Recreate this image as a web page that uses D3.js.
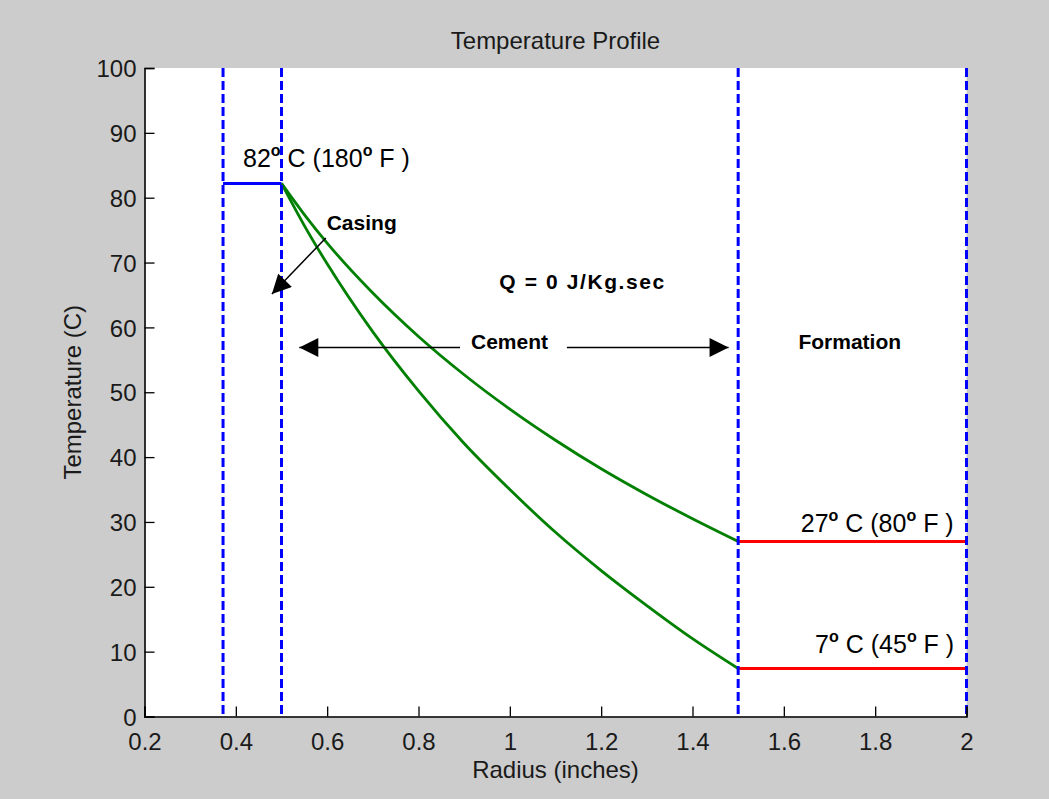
<!DOCTYPE html>
<html>
<head>
<meta charset="utf-8">
<script src="https://cdn.jsdelivr.net/npm/d3@7"></script>
<style>
  html, body { margin: 0; padding: 0; background: #cccccc; }
  svg { display: block; }
  text { font-family: "Liberation Sans", Arial, Helvetica, sans-serif; }
</style>
</head>
<body>
<svg id="chart" width="1049" height="799"></svg>
<script>
// Radial temperature profile through casing, cement and formation.
const xTickValues = [0.2, 0.4, 0.6, 0.8, 1.0, 1.2, 1.4, 1.6, 1.8, 2.0];
const xTickLabels = ["0.2", "0.4", "0.6", "0.8", "1", "1.2", "1.4", "1.6", "1.8", "2"];
const yTickValues = [0, 10, 20, 30, 40, 50, 60, 70, 80, 90, 100];
const yTickLabels = ["0", "10", "20", "30", "40", "50", "60", "70", "80", "90", "100"];

// Cement region: temperature vs radius (inches) for two formation temperatures
const cementRadius = [0.5, 0.55, 0.6, 0.7, 0.8, 0.9, 1.0, 1.1, 1.2, 1.3, 1.4, 1.5];
const tempToWarm = [82.2, 77.4, 73.0, 65.3, 58.6, 52.7, 47.4, 42.6, 38.2, 34.2, 30.5, 27.0];
const tempToCold = [82.2, 75.7, 69.8, 59.3, 50.2, 42.1, 35.0, 28.4, 22.5, 17.1, 12.0, 7.4];

// Layer boundaries (inches)
const boundaryRadii = [0.372, 0.5, 1.5, 2.0];
// Casing: constant fluid temperature
const casingSpan = [0.372, 0.5];
const casingTemp = 82.2;
// Formation: constant far-field temperatures
const formationSpan = [1.5, 2.0];
const formationTemps = [27.0, 7.4];

const svg = d3.select("#chart");
const W = 1049, H = 799;
const margin = { left: 144.5, right: 82.5, top: 68, bottom: 82.5 };

const x = d3.scaleLinear().domain([0.2, 2]).range([margin.left, W - margin.right]);
const y = d3.scaleLinear().domain([0, 100]).range([H - margin.bottom, margin.top]);

// Figure and axes backgrounds
svg.append("rect").attr("width", W).attr("height", H).attr("fill", "#cccccc");
svg.append("rect")
  .attr("x", x(0.2)).attr("y", y(100))
  .attr("width", x(2) - x(0.2)).attr("height", y(0) - y(100))
  .attr("fill", "#ffffff");

const defs = svg.append("defs");
defs.append("marker")
  .attr("id", "arrowhead")
  .attr("viewBox", "0 0 20 20")
  .attr("refX", 20).attr("refY", 10)
  .attr("markerUnits", "userSpaceOnUse")
  .attr("markerWidth", 20).attr("markerHeight", 19)
  .attr("orient", "auto")
  .append("path").attr("d", "M0,0 L20,10 L0,20 Z").attr("fill", "#000");

// Cement temperature curves
const line = d3.line().x(d => x(d[0])).y(d => y(d[1])).curve(d3.curveMonotoneX);
[tempToWarm, tempToCold].forEach(temps => {
  svg.append("path")
    .datum(cementRadius.map((r, i) => [r, temps[i]]))
    .attr("d", line)
    .attr("fill", "none")
    .attr("stroke", "#008000")
    .attr("stroke-width", 2.8);
});

// Casing temperature
svg.append("line")
  .attr("x1", x(casingSpan[0])).attr("x2", x(casingSpan[1]))
  .attr("y1", y(casingTemp)).attr("y2", y(casingTemp))
  .attr("stroke", "#0000ff").attr("stroke-width", 3);

// Formation temperatures
svg.selectAll(".formation")
  .data(formationTemps)
  .enter().append("line")
  .attr("class", "formation")
  .attr("x1", x(formationSpan[0])).attr("x2", x(formationSpan[1]))
  .attr("y1", d => y(d)).attr("y2", d => y(d))
  .attr("stroke", "#ff0000").attr("stroke-width", 3);

// Layer boundaries
svg.selectAll(".boundary")
  .data(boundaryRadii)
  .enter().append("line")
  .attr("class", "boundary")
  .attr("x1", d => x(d)).attr("x2", d => x(d))
  .attr("y1", y(100)).attr("y2", y(0))
  .attr("stroke", "#0000ff").attr("stroke-width", 3)
  .attr("stroke-dasharray", "9,4");

// Axes
const xAxis = d3.axisBottom(x)
  .tickValues(xTickValues)
  .tickSize(-10)
  .tickPadding(12)
  .tickFormat((d, i) => xTickLabels[i]);
const yAxis = d3.axisLeft(y)
  .tickValues(yTickValues)
  .tickSize(-10)
  .tickPadding(8)
  .tickFormat((d, i) => yTickLabels[i]);

const gx = svg.append("g").attr("transform", `translate(0,${y(0)})`).call(xAxis);
const gy = svg.append("g").attr("transform", `translate(${x(0.2)},0)`).call(yAxis);
[gx, gy].forEach(g => {
  g.select(".domain").attr("stroke", "#000").attr("stroke-width", 1.6);
  g.selectAll(".tick line").attr("stroke", "#000").attr("stroke-width", 1.3);
  g.selectAll(".tick text")
    .attr("fill", "#1a1a1a")
    .style("font-size", "24px")
    .style("font-family", "'Liberation Sans', Arial, sans-serif");
});
gx.selectAll(".tick text").attr("dy", "0.9em");
gy.selectAll(".tick text").attr("dy", "0.36em");

// Title and axis labels
svg.append("text")
  .attr("x", (x(0.2) + x(2)) / 2).attr("y", 49)
  .attr("text-anchor", "middle")
  .attr("fill", "#1a1a1a")
  .style("font-size", "24px")
  .text("Temperature Profile");

svg.append("text")
  .attr("x", (x(0.2) + x(2)) / 2).attr("y", 778)
  .attr("text-anchor", "middle")
  .attr("fill", "#1a1a1a")
  .style("font-size", "24px")
  .text("Radius (inches)");

svg.append("text")
  .attr("transform", `translate(81,${(y(0) + y(100)) / 2}) rotate(-90)`)
  .attr("text-anchor", "middle")
  .attr("fill", "#1a1a1a")
  .style("font-size", "24px")
  .text("Temperature (C)");

// Temperature annotations with degree marks
function tempLabel(px, py, anchor, celsius, fahrenheit) {
  const t = svg.append("text")
    .attr("x", x(px)).attr("y", y(py))
    .attr("text-anchor", anchor)
    .attr("fill", "#000")
    .style("font-size", "25px");
  t.append("tspan").text(celsius);
  t.append("tspan").attr("dy", -11).style("font-size", "16px").style("font-weight", "bold").text("o");
  t.append("tspan").attr("dy", 11).text(" C (" + fahrenheit);
  t.append("tspan").attr("dy", -11).style("font-size", "16px").style("font-weight", "bold").text("o");
  t.append("tspan").attr("dy", 11).text(" F )");
}
tempLabel(0.4158, 84.8, "start", "82", "180");
tempLabel(1.972, 28.45, "end", "27", "80");
tempLabel(1.973, 9.75, "end", "7", "45");

// Region labels
const regionLabels = [
  { text: "Casing", r: 0.599, t: 75.0 },
  { text: "Q = 0 J/Kg.sec", r: 0.977, t: 65.9 },
  { text: "Cement", r: 0.915, t: 56.6 },
  { text: "Formation", r: 1.632, t: 56.6 }
];
svg.selectAll(".region")
  .data(regionLabels)
  .enter().append("text")
  .attr("class", "region")
  .attr("x", d => x(d.r)).attr("y", d => y(d.t))
  .attr("fill", "#000")
  .style("font-size", "21px")
  .style("font-weight", "bold")
  .style("letter-spacing", d => d.text.startsWith("Q") ? "1.6px" : "0px")
  .text(d => d.text);

// Pointer arrows: [from radius, from temp, to radius, to temp]
const arrows = [
  [0.597, 73.8, 0.479, 65.15],
  [0.891, 56.9, 0.539, 56.9],
  [1.125, 56.9, 1.479, 56.9]
];
svg.selectAll(".arrow")
  .data(arrows)
  .enter().append("line")
  .attr("class", "arrow")
  .attr("x1", d => x(d[0])).attr("y1", d => y(d[1]))
  .attr("x2", d => x(d[2])).attr("y2", d => y(d[3]))
  .attr("stroke", "#000").attr("stroke-width", 1.5)
  .attr("marker-end", "url(#arrowhead)");
</script>
</body>
</html>
